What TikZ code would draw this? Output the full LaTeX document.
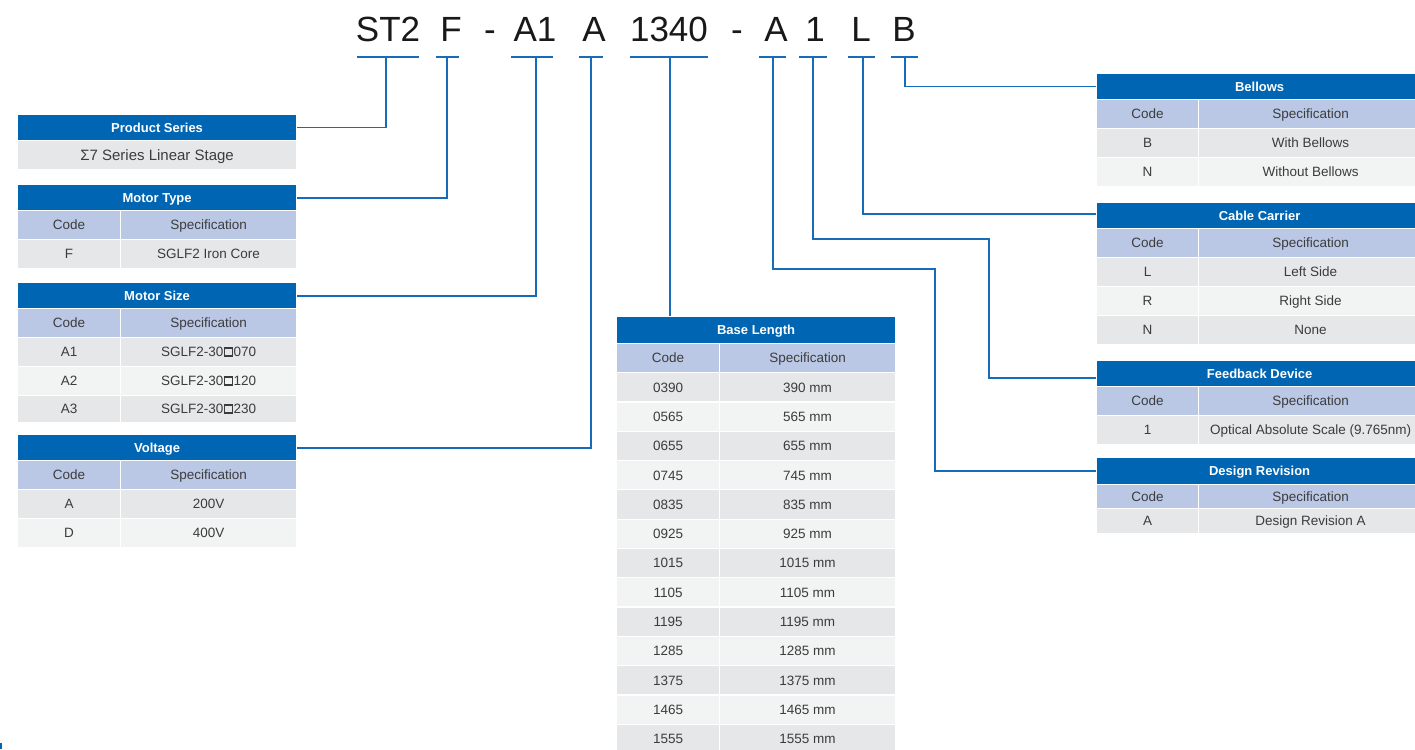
\documentclass[tikz,border=0pt]{standalone}
\usepackage{fontspec}
\setmainfont{Liberation Sans}
\definecolor{hblue}{RGB}{0,101,178}
\definecolor{lnblue}{RGB}{22,108,185}
\definecolor{subblue}{RGB}{186,200,230}
\definecolor{rowgray}{RGB}{230,231,232}
\definecolor{rowlight}{RGB}{242,243,243}
\definecolor{txtgray}{RGB}{60,60,60}
\newcommand\sqbox{\kern0.3pt\raisebox{1.5pt}{\setlength\fboxsep{0pt}\setlength\fboxrule{1.5pt}\fbox{\phantom{\rule{6.6pt}{6.6pt}}}}\kern0.3pt}
\newcommand\hdrcell[6]{\node[hdr, minimum width={(#4-#2)*1pt}, minimum height=#5pt, anchor=north west] (#1) at (#2,#3) {#6};}
\newcommand\fullrow[7]{\node[cellbox, bigtext, fill=#6, minimum width={(#4-#2)*1pt}, minimum height=#5pt, anchor=north west] (#1) at (#2,#3) {#7};}
\newcommand\tabrow[9]{%
  \node[cellbox, fill=#7, minimum width={(#3-#2)*1pt}, minimum height=#6pt, anchor=north west] (#1c) at (#2,#5) {#8};
  \node[cellbox, fill=#7, minimum width={(#4-#3)*1pt}, minimum height=#6pt, anchor=north west] (#1s) at (#3,#5) {#9};}
\begin{document}
\begin{tikzpicture}[x=1pt,y=-1pt,
  hdr/.style={fill=hblue, draw=white, line width=1.2pt, inner sep=0pt, text=white, text height=9.3pt, text depth=0pt, font=\fontsize{13}{15}\selectfont\bfseries},
  cellbox/.style={draw=white, line width=1.2pt, inner sep=0pt, text=txtgray, text height=9.7pt, text depth=0pt, font=\fontsize{13.5}{16}\selectfont},
  bigtext/.style={text height=10.7pt, font=\fontsize{15}{17}\selectfont},
  ttl/.style={anchor=base, inner sep=0pt, text=black!90, font=\fontsize{35}{40}\selectfont},
  conn/.style={draw=lnblue, line width=1.8pt},
  uline/.style={draw=lnblue, line width=1.8pt, line cap=butt}]
\useasboundingbox (0,0) rectangle (1415,749);
\clip (0,0) rectangle (1415,749);
\fill[white] (0,0) rectangle (1415,749);

% ---------- title code ----------
\node[ttl] (tST2) at (388,42) {ST2};
\node[ttl] (tF) at (451,42) {F};
\node[ttl] (tD1) at (490,42) {-};
\node[ttl] (tA1) at (535,42) {A1};
\node[ttl] (tA) at (594,42) {A};
\node[ttl] (t1340) at (669,42) {1340};
\node[ttl] (tD2) at (737,42) {-};
\node[ttl] (tA2) at (776,42) {A};
\node[ttl] (t1) at (815,42) {1};
\node[ttl] (tL) at (861,42) {L};
\node[ttl] (tB) at (904,42) {B};

% underlines
\draw[uline] (357,57) -- (419,57);
\draw[uline] (436,57) -- (459,57);
\draw[uline] (511,57) -- (553,57);
\draw[uline] (579,57) -- (603,57);
\draw[uline] (630,57) -- (708,57);
\draw[uline] (759,57) -- (786,57);
\draw[uline] (799,57) -- (827,57);
\draw[uline] (848,57) -- (875,57);
\draw[uline] (891,57) -- (918,57);
\coordinate (uST2) at (386,57);
\coordinate (uF) at (447,57);
\coordinate (uA1) at (536,57);
\coordinate (uA) at (591,57);
\coordinate (u1340) at (670,57);
\coordinate (uA2) at (773,57);
\coordinate (u1) at (813,57);
\coordinate (uL) at (863,57);
\coordinate (uB) at (905,57);

% ---------- left tables ----------
\hdrcell{hPS}{17}{114}{296}{26}{Product Series}
\fullrow{rPS}{17}{140}{296}{29}{rowgray}{Σ7 Series Linear Stage}

\hdrcell{hMT}{17}{184}{296}{26}{Motor Type}
\tabrow{sMT}{17}{120}{296}{210}{29}{subblue}{Code}{Specification}
\tabrow{rMT1}{17}{120}{296}{239}{29}{rowgray}{F}{SGLF2 Iron Core}

\hdrcell{hMS}{17}{282}{296}{26}{Motor Size}
\tabrow{sMS}{17}{120}{296}{308}{29}{subblue}{Code}{Specification}
\tabrow{rMS1}{17}{120}{296}{337}{29}{rowgray}{A1}{SGLF2-30\sqbox070}
\tabrow{rMS2}{17}{120}{296}{366}{29}{rowlight}{A2}{SGLF2-30\sqbox120}
\tabrow{rMS3}{17}{120}{296}{395}{27}{rowgray}{A3}{SGLF2-30\sqbox230}

\hdrcell{hV}{17}{434}{296}{26}{Voltage}
\tabrow{sV}{17}{120}{296}{460}{29}{subblue}{Code}{Specification}
\tabrow{rV1}{17}{120}{296}{489}{29}{rowgray}{A}{200V}
\tabrow{rV2}{17}{120}{296}{518}{29}{rowlight}{D}{400V}

% ---------- base length ----------
\hdrcell{hBL}{616}{316}{895}{27}{Base Length}
\tabrow{sBL}{616}{719}{895}{343}{29}{subblue}{Code}{Specification}
\tabrow{rBL1}{616}{719}{895}{372}{29.3}{rowgray}{0390}{390 mm}
\tabrow{rBL2}{616}{719}{895}{401.3}{29.3}{rowlight}{0565}{565 mm}
\tabrow{rBL3}{616}{719}{895}{430.6}{29.3}{rowgray}{0655}{655 mm}
\tabrow{rBL4}{616}{719}{895}{459.9}{29.3}{rowlight}{0745}{745 mm}
\tabrow{rBL5}{616}{719}{895}{489.2}{29.3}{rowgray}{0835}{835 mm}
\tabrow{rBL6}{616}{719}{895}{518.5}{29.3}{rowlight}{0925}{925 mm}
\tabrow{rBL7}{616}{719}{895}{547.8}{29.3}{rowgray}{1015}{1015 mm}
\tabrow{rBL8}{616}{719}{895}{577.1}{29.3}{rowlight}{1105}{1105 mm}
\tabrow{rBL9}{616}{719}{895}{606.4}{29.3}{rowgray}{1195}{1195 mm}
\tabrow{rBL10}{616}{719}{895}{635.7}{29.3}{rowlight}{1285}{1285 mm}
\tabrow{rBL11}{616}{719}{895}{665}{29.3}{rowgray}{1375}{1375 mm}
\tabrow{rBL12}{616}{719}{895}{694.3}{29.3}{rowlight}{1465}{1465 mm}
\tabrow{rBL13}{616}{719}{895}{723.6}{29.3}{rowgray}{1555}{1555 mm}

% ---------- right tables ----------
\hdrcell{hBe}{1096}{73}{1422}{26}{Bellows}
\tabrow{sBe}{1096}{1198}{1422}{99}{29}{subblue}{Code}{Specification}
\tabrow{rBe1}{1096}{1198}{1422}{128}{29}{rowgray}{B}{With Bellows}
\tabrow{rBe2}{1096}{1198}{1422}{157}{29}{rowlight}{N}{Without Bellows}

\hdrcell{hCC}{1096}{202}{1422}{26}{Cable Carrier}
\tabrow{sCC}{1096}{1198}{1422}{228}{29}{subblue}{Code}{Specification}
\tabrow{rCC1}{1096}{1198}{1422}{257}{29}{rowgray}{L}{Left Side}
\tabrow{rCC2}{1096}{1198}{1422}{286}{29}{rowlight}{R}{Right Side}
\tabrow{rCC3}{1096}{1198}{1422}{315}{29}{rowgray}{N}{None}

\hdrcell{hFB}{1096}{360}{1422}{26}{Feedback Device}
\tabrow{sFB}{1096}{1198}{1422}{386}{29}{subblue}{Code}{Specification}
\tabrow{rFB1}{1096}{1198}{1422}{415}{29}{rowgray}{1}{Optical Absolute Scale (9.765nm)}

\hdrcell{hDR}{1096}{457}{1422}{27}{Design Revision}
\tabrow{sDR}{1096}{1198}{1422}{484}{24}{subblue}{Code}{Specification}
\tabrow{rDR1}{1096}{1198}{1422}{508}{25}{rowgray}{A}{Design Revision A}

% ---------- connectors ----------
\draw[conn] (uST2) |- (hPS.east);
\draw[conn] (uF) |- (hMT.east);
\draw[conn] (uA1) |- (hMS.east);
\draw[conn] (uA) |- (hV.east);
\draw[conn] (u1340) -- (u1340 |- hBL.north);
\draw[conn] (uB) |- (hBe.west);
\draw[conn] (uL) |- ([yshift=2pt]hCC.west);
\draw[conn] (u1) |- (989,239) |- ([yshift=-4pt]hFB.west);
\draw[conn] (uA2) |- (935,269) |- (hDR.west);

% corner mark
\fill[hblue] (0,743) rectangle (2,749);
\end{tikzpicture}
\end{document}
